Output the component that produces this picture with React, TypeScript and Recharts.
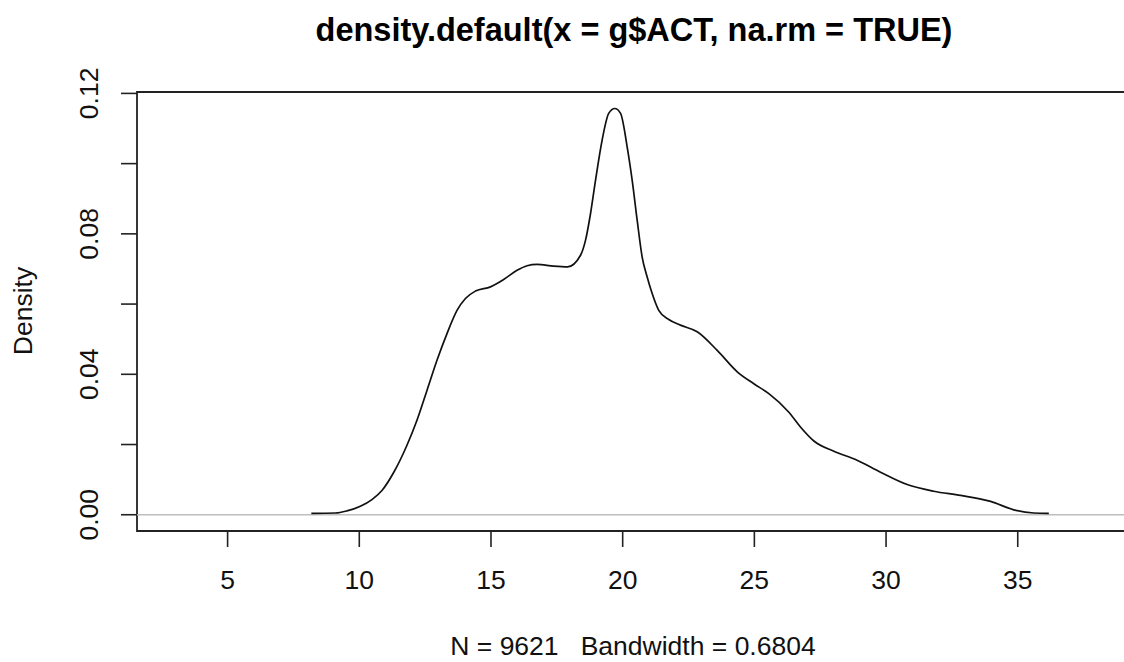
import React from "react"
import {
  LineChart,
  Line,
  XAxis,
  YAxis,
  ReferenceLine,
  ReferenceArea,
} from "recharts"

// density curve
const densityX = [
  8.18, 9.09, 9.53, 10.04, 10.48, 10.86, 11.31, 11.81, 12.19, 12.57, 12.95, 13.33,
  13.71, 14.03, 14.41, 14.98, 15.48, 15.99, 16.37, 16.75, 17.38, 17.91, 18.4, 18.59,
  18.78, 18.97, 19.22, 19.47, 19.7, 19.92, 20.17, 20.36, 20.55, 20.74, 20.93, 21.12,
  21.37, 21.75, 22.19, 22.83, 23.59, 24.35, 24.98, 25.55, 26.31, 26.75, 27.26, 28.02,
  28.9, 29.79, 30.8, 31.81, 32.83, 33.97, 34.85, 35.61, 36.18,
]
const densityY = [
  0.0004, 0.0005, 0.0011, 0.0024, 0.0043, 0.0069, 0.0121, 0.0198, 0.0269, 0.0354, 0.044, 0.0516,
  0.0582, 0.0616, 0.0637, 0.0649, 0.067, 0.0696, 0.0709, 0.0713, 0.0708, 0.0706, 0.0739, 0.0782,
  0.0858, 0.0953, 0.1067, 0.1143, 0.1157, 0.1143, 0.1048, 0.0953, 0.0839, 0.0734, 0.0677, 0.063,
  0.0582, 0.0556, 0.054, 0.0521, 0.0468, 0.0407, 0.0373, 0.0345, 0.0292, 0.025, 0.021, 0.0181,
  0.0155, 0.0121, 0.0086, 0.0067, 0.0055, 0.0038, 0.0014, 0.0005, 0.0004,
]
const xTicks = [5, 10, 15, 20, 25, 30, 35]
const yTicks = [0, 0.02, 0.04, 0.06, 0.08, 0.1, 0.12]
const yLabelled = ["0.00", "0.04", "0.08", "0.12"]

const titleText = "density.default(x = g$ACT, na.rm = TRUE)"
const subText = "N = 9621   Bandwidth = 0.6804"
const yTitle = "Density"

const X_MIN = 1.56
const X_MAX = 39.3
const Y_MIN = -0.00463
const Y_MAX = 0.1204

const FONT = "'Liberation Sans', Arial, sans-serif"
const PLOT_LEFT = 137
const PLOT_BOTTOM = 531
const TICK_LEN = 16

const data = densityX.map((x, i) => ({ x, y: densityY[i] }))

function XTick(props: any) {
  const { x, payload } = props
  return (
    <g>
      <line x1={x} x2={x} y1={PLOT_BOTTOM} y2={PLOT_BOTTOM + TICK_LEN} stroke="#222" strokeWidth={1.6} />
      <text x={x} y={PLOT_BOTTOM + 58} textAnchor="middle" fontFamily={FONT} fontSize={26.5} fill="#111">
        {payload.value}
      </text>
    </g>
  )
}

function YTick(props: any) {
  const { y, payload } = props
  const label = payload.value.toFixed(2)
  const show = yLabelled.includes(label)
  return (
    <g>
      <line x1={PLOT_LEFT - TICK_LEN} x2={PLOT_LEFT} y1={y} y2={y} stroke="#222" strokeWidth={1.6} />
      {show && (
        <text
          x={98}
          y={y}
          transform={`rotate(-90, 98, ${y})`}
          textAnchor="middle"
          fontFamily={FONT}
          fontSize={26.5}
          fill="#111"
        >
          {label}
        </text>
      )}
    </g>
  )
}

export default function App() {
  return (
    <div style={{ position: "absolute", left: 0, top: 0, width: 1124, height: 662, overflow: "hidden", background: "#fff" }}>
      <LineChart width={1140} height={662} data={data} margin={{ top: 92, right: 9, bottom: 0, left: 0 }}>
        <XAxis
          dataKey="x"
          type="number"
          domain={[X_MIN, X_MAX]}
          ticks={xTicks}
          interval={0}
          allowDataOverflow
          axisLine={false}
          tickLine={false}
          height={131}
          tick={(p: any) => <XTick {...p} />}
        />
        <YAxis
          type="number"
          domain={[Y_MIN, Y_MAX]}
          ticks={yTicks}
          interval={0}
          allowDataOverflow
          axisLine={false}
          tickLine={false}
          width={137}
          tick={(p: any) => <YTick {...p} />}
        />
        <ReferenceLine y={0} stroke="#bebebe" strokeWidth={1.6} />
        <ReferenceArea x1={X_MIN} x2={X_MAX} y1={Y_MIN} y2={Y_MAX} fill="none" stroke="#222" strokeWidth={1.8} />
        <Line
          type="monotone"
          dataKey="y"
          stroke="#111"
          strokeWidth={1.7}
          dot={false}
          isAnimationActive={false}
        />
      </LineChart>
      <svg width={1124} height={662} style={{ position: "absolute", left: 0, top: 0, pointerEvents: "none" }}>
        <text x={634} y={41} textAnchor="middle" fontFamily={FONT} fontSize={32.5} fontWeight="bold" fill="#000">
          {titleText}
        </text>
        <text
          x={633}
          y={655}
          textAnchor="middle"
          fontFamily={FONT}
          fontSize={26.5}
          fill="#111"
          style={{ whiteSpace: "pre" }}
        >
          {subText}
        </text>
        <text x={32} y={311} transform="rotate(-90, 32, 311)" textAnchor="middle" fontFamily={FONT} fontSize={26.5} fill="#111">
          {yTitle}
        </text>
      </svg>
    </div>
  )
}
